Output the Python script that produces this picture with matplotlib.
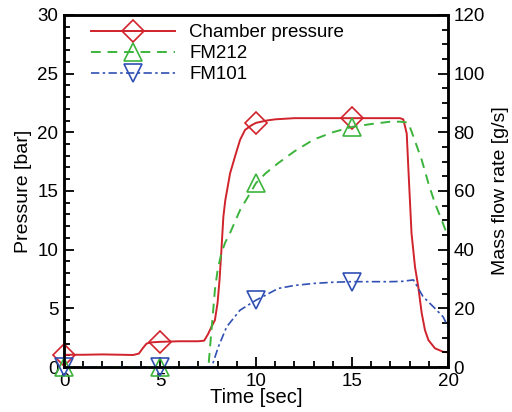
import numpy as np
import matplotlib
matplotlib.use("Agg")
import matplotlib.pyplot as plt
from matplotlib.lines import Line2D
from matplotlib.ticker import MultipleLocator

plt.rcParams['font.family'] = ['Liberation Sans', 'DejaVu Sans']

# Chamber pressure [bar]
t_p = [0, 1, 2, 3, 3.6, 3.9, 4.1, 4.3, 4.5, 5, 6, 7, 7.3, 7.5, 7.7, 7.86, 8.0, 8.1, 8.2, 8.3,
       8.4, 8.65, 8.9, 9.17, 9.43, 9.77, 10, 10.56, 11, 12, 13, 14, 15, 16, 17, 17.5, 17.67,
       17.85, 17.93, 18.1, 18.28, 18.45, 18.63, 18.8, 18.98, 19.32, 19.75, 20]
p_ch = [1.05, 1.05, 1.08, 1.05, 1.03, 1.15, 1.6, 2.0, 2.1, 2.15, 2.2, 2.2, 2.25, 2.8, 3.5, 4.0,
        5.5, 7.4, 10.0, 12.8, 14.2, 16.5, 17.9, 19.35, 20.2, 20.6, 20.8, 21.0, 21.1, 21.2, 21.2,
        21.2, 21.2, 21.2, 21.2, 21.2, 21.1, 19.9, 17.1, 11.4, 8.55, 6.85, 4.6, 3.15, 2.3, 1.6,
        1.3, 1.25]

# FM212 mass flow [g/s]
t_g = [0, 5, 7.52, 7.7, 7.86, 8.0, 8.2, 8.4, 8.65, 9.17, 9.7, 10, 10.5, 11.16, 12, 13, 14, 15,
       16, 17, 17.5, 17.93, 18.2, 18.63, 18.98, 19.32, 19.67, 20]
m_g = [0, 0, 0, 14, 26.3, 33, 38.9, 42.5, 45.7, 53.5, 59.3, 62.7, 66, 69.5, 73.5, 77.5, 80, 81.8,
       82.8, 83.6, 83.6, 83.3, 78.5, 70.6, 62.6, 55.8, 50.1, 44.4]

# FM101 mass flow [g/s]
t_b = [0, 5, 7.69, 8.04, 8.47, 9.17, 10, 10.5, 11.16, 12, 13, 14, 15, 16, 17, 17.6, 18.2, 18.7,
       19.23, 19.75, 20]
m_b = [0, 0, 0, 6.9, 13.7, 19.4, 22.8, 24.5, 26.8, 27.8, 28.5, 28.9, 29.1, 29.1, 29.1, 29.2,
       29.7, 24, 20.6, 17.1, 13.7]

marker_times = [0, 5, 10, 15]

red = '#d0232b'
green = '#3cb43c'
blue = '#3050b4'

fig = plt.figure(figsize=(5.12, 4.12), dpi=100)
ax = fig.add_axes([0.125, 0.109, 0.75, 0.855])
ax2 = ax.twinx()

t_p_a, p_a = np.array(t_p), np.array(p_ch)
t_g_a, g_a = np.array(t_g), np.array(m_g)
t_b_a, b_a = np.array(t_b), np.array(m_b)

DS = 11
TS = 12.5
ax.plot(t_p_a, p_a, color=red, lw=1.4, zorder=3)
mp = np.isin(t_p_a, marker_times)
ax.plot(t_p_a[mp], p_a[mp], 'D', ms=DS, mfc='none', mec=red, mew=1.2, clip_on=False, zorder=4)

ax2.plot(t_g_a, g_a, color=green, lw=1.4, ls=(0, (5, 3.5)))
mg = np.isin(t_g_a, marker_times)
ax2.plot(t_g_a[mg], g_a[mg], '^', ms=TS, mfc='none', mec=green, mew=1.2, clip_on=False)

ax2.plot(t_b_a, b_a, color=blue, lw=1.2, ls=(0, (5, 2, 1.5, 2)))
mb = np.isin(t_b_a, marker_times)
ax2.plot(t_b_a[mb], b_a[mb], 'v', ms=TS, mfc='none', mec=blue, mew=1.2, clip_on=False)

ax.set_xlim(0, 20)
ax.set_ylim(0, 30)
ax2.set_ylim(0, 120)

ax.xaxis.set_major_locator(MultipleLocator(5))
ax.xaxis.set_minor_locator(MultipleLocator(1))
ax.yaxis.set_major_locator(MultipleLocator(5))
ax.yaxis.set_minor_locator(MultipleLocator(1))
ax2.yaxis.set_major_locator(MultipleLocator(20))
ax2.yaxis.set_minor_locator(MultipleLocator(5))

FS = 13.5
for a in (ax, ax2):
    for s in a.spines.values():
        s.set_linewidth(1.8)
ax.tick_params(which='both', direction='in', width=1.3, labelsize=FS, top=False, right=False)
ax.tick_params(which='major', length=7)
ax.tick_params(which='minor', length=4)
ax2.tick_params(which='both', direction='in', width=1.3, labelsize=FS)
ax2.tick_params(which='major', length=7)
ax2.tick_params(which='minor', length=4)
ax.tick_params(axis='x', pad=4)
ax.tick_params(axis='y', pad=4)
ax2.tick_params(axis='y', pad=4)

ax.set_xlabel('Time [sec]', fontsize=14.5, labelpad=-1)
ax.set_ylabel('Pressure [bar]', fontsize=14, labelpad=4)
ax2.set_ylabel('Mass flow rate [g/s]', fontsize=14, labelpad=5)

handles = [
    Line2D([], [], color=red, lw=1.4, marker='D', ms=DS, mfc='none', mec=red, mew=1.2),
    Line2D([], [], color=green, lw=1.4, ls=(0, (5, 3.5)), marker='^', ms=TS, mfc='none', mec=green, mew=1.2),
    Line2D([], [], color=blue, lw=1.2, ls=(0, (5, 2, 1.5, 2)), marker='v', ms=TS, mfc='none', mec=blue, mew=1.2),
]
labels = ['Chamber pressure', 'FM212', 'FM101']
ax2.legend(handles, labels, loc='upper left', bbox_to_anchor=(0.045, 1.0), frameon=False,
           fontsize=13.5, handlelength=4.5, handletextpad=0.75, labelspacing=0.2, borderaxespad=0.1)

fig.savefig('out.png', dpi=100)
